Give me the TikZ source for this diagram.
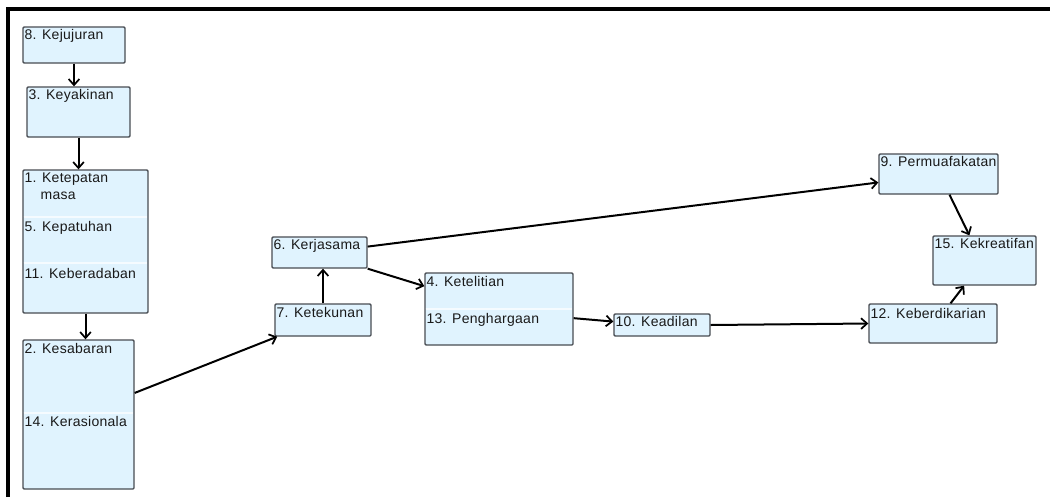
\documentclass[tikz,border=0pt]{standalone}
\usepackage{fontspec}
\setmainfont{Liberation Sans}[LetterSpace=2]
\usepackage{tikz}
\usetikzlibrary{arrows.meta, calc, fit}
\definecolor{boxFill}{RGB}{224,243,254}
\definecolor{boxLine}{RGB}{72,76,82}
\definecolor{rowLine}{RGB}{245,251,255}

\begin{document}
\begin{tikzpicture}[x=0.75pt, y=-0.75pt,
    box/.style={draw=boxLine, fill=boxFill, line width=1pt, rounded corners=0.8pt, inner sep=0pt},
    lbl/.style={anchor=base west, inner sep=0pt, font=\fontsize{10.5}{12}\selectfont, text=black!90},
    link/.style={line width=1.5pt, -{Straight Barb[length=4.5pt, width=8pt, line width=1.3pt]}},
    divline/.style={rowLine, line width=1pt, shorten <=1pt, shorten >=1pt}]
    \useasboundingbox (0,0) rectangle (1050,497);
    % bingkai
    \draw[line width=2.3pt] (8,497) -- (8,9) -- (1050,9);

    % kotak-kotak
    \node[box, fit={(23,27) (125,63)}] (kej) {};
    \node[box, fit={(27,87) (130,137)}] (key) {};
    \node[box, fit={(23,170) (148,313)}] (ket) {};
    \node[box, fit={(23,340) (134,489)}] (kes) {};
    \node[box, fit={(272,237) (367,268)}] (kerja) {};
    \node[box, fit={(275,304) (371,336)}] (tekun) {};
    \node[box, fit={(425,273) (573,345)}] (teliti) {};
    \node[box, fit={(614,314) (710,336)}] (adil) {};
    \node[box, fit={(869,304) (997,343)}] (berdi) {};
    \node[box, fit={(879,154) (998,194)}] (mufakat) {};
    \node[box, fit={(933,236) (1036,285)}] (kreatif) {};

    % garis pemisah dalam kotak
    \draw[divline] (ket.west |- 0,217) -- (ket.east |- 0,217);
    \draw[divline] (ket.west |- 0,263) -- (ket.east |- 0,263);
    \draw[divline] (kes.west |- 0,413) -- (kes.east |- 0,413);
    \draw[divline] (teliti.west |- 0,309) -- (teliti.east |- 0,309);

    % teks
    \node[lbl] (t-kej) at ($(kej.north west)+(2,13)$) {8. Kejujuran};
    \node[lbl] (t-key) at ($(key.north west)+(2,13)$) {3. Keyakinan};
    \node[lbl] (t-ket) at ($(ket.north west)+(2,13)$) {1. Ketepatan};
    \node[lbl] (t-masa) at ($(ket.north west)+(18,30)$) {masa};
    \node[lbl] (t-patuh) at ($(ket.north west)+(2,62)$) {5. Kepatuhan};
    \node[lbl] (t-adab) at ($(ket.north west)+(2,109)$) {11. Keberadaban};
    \node[lbl] (t-sabar) at ($(kes.north west)+(2,14)$) {2. Kesabaran};
    \node[lbl] (t-rasional) at ($(kes.north west)+(2,87)$) {14. Kerasionala};
    \node[lbl] (t-kerja) at ($(kerja.north west)+(2,13)$) {6. Kerjasama};
    \node[lbl] (t-tekun) at ($(tekun.north west)+(2,14)$) {7. Ketekunan};
    \node[lbl] (t-teliti) at ($(teliti.north west)+(2,14)$) {4. Ketelitian};
    \node[lbl] (t-harga) at ($(teliti.north west)+(2,51)$) {13. Penghargaan};
    \node[lbl] (t-adil) at ($(adil.north west)+(2,13)$) {10. Keadilan};
    \node[lbl] (t-berdi) at ($(berdi.north west)+(2,15)$) {12. Keberdikarian};
    \node[lbl] (t-mufakat) at ($(mufakat.north west)+(2,13)$) {9. Permuafakatan};
    \node[lbl] (t-kreatif) at ($(kreatif.north west)+(2,13)$) {15. Kekreatifan};

    % anak panah
    \draw[link] (kej.south) -- (kej.south |- key.north);
    \draw[link] (key.south) -- (key.south |- ket.north);
    \draw[link] (ket.south) -- (ket.south |- kes.north);
    \draw[link] (kes.21) -- (tekun.200);
    \draw[link] (tekun.north) -- (tekun.north |- kerja.south);
    \draw[link] (kerja.south east) -- (teliti.163);
    \draw[link] (kerja.7) -- (mufakat.188);
    \draw[link] (teliti.-7) -- (adil.176);
    \draw[link] (adil.east) -- (berdi.west);
    \draw[link] (berdi.49) -- (kreatif.231);
    \draw[link] (mufakat.-62) -- (kreatif.121);
\end{tikzpicture}
\end{document}
